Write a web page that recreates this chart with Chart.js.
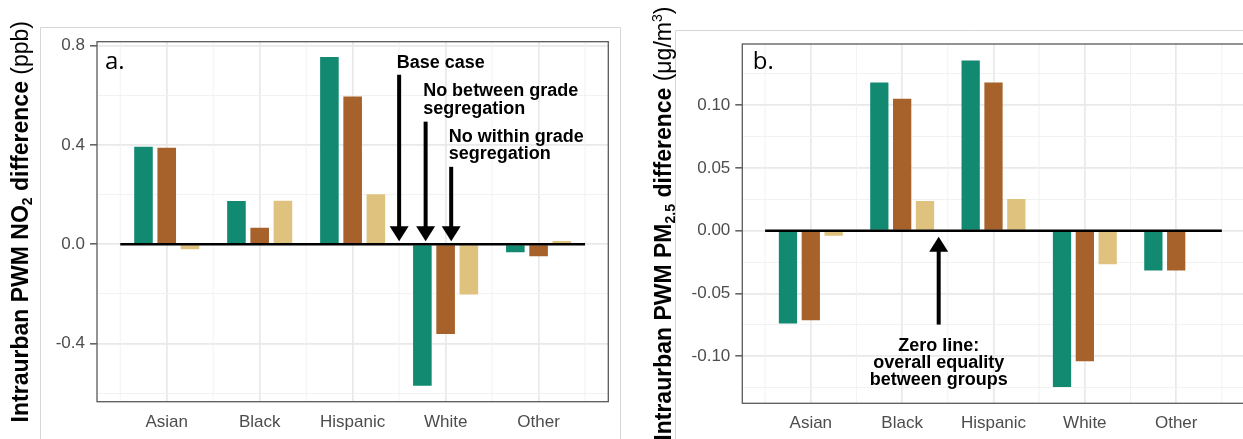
<!DOCTYPE html>
<html>
<head>
<meta charset="utf-8">
<script src="https://cdn.jsdelivr.net/npm/chart.js@4.4.1/dist/chart.umd.min.js"></script>
<style>
  html, body { margin: 0; padding: 0; background: #fff; overflow: hidden; width: 1243px; height: 439px; }
  #wrapA { position: absolute; left: 0; top: 0; width: 621px; height: 439px; }
  #wrapB { position: absolute; left: 621px; top: 0; width: 640px; height: 439px; }
  canvas { display: block; }
</style>
</head>
<body>
<div id="wrapA"><canvas id="no2" width="621" height="439" style="width:621px;height:439px"></canvas></div>
<div id="wrapB"><canvas id="pm25" width="640" height="439" style="width:640px;height:439px"></canvas></div>
<script>
// Racial/ethnic groups on the x axis
const categories = ['Asian', 'Black', 'Hispanic', 'White', 'Other'];
const scenarioNames = ['Base case', 'No between grade segregation', 'No within grade segregation'];

// Intraurban population-weighted mean NO2 difference (ppb)
const no2Base       = [0.393, 0.174, 0.754, -0.570, -0.032];
const no2NoBetween  = [0.389, 0.067, 0.595, -0.361, -0.048];
const no2NoWithin   = [-0.020, 0.175, 0.202, -0.202, 0.013];

// Intraurban population-weighted mean PM2.5 difference (ug/m3)
const pm25Base      = [-0.0740, 0.1180, 0.1355, -0.1246, -0.0317];
const pm25NoBetween = [-0.0714, 0.1050, 0.1180, -0.1040, -0.0317];
const pm25NoWithin  = [-0.0040, 0.0236, 0.0252, -0.0267, 0.0000];

// y tick positions (grid) and the ones that carry a label
const no2Ticks      = [-0.6, -0.4, -0.2, 0.0, 0.2, 0.4, 0.6, 0.8];
const no2Labelled   = [-0.4, 0.0, 0.4, 0.8];
const pm25Ticks     = [-0.125, -0.1, -0.075, -0.05, -0.025, 0.0, 0.025, 0.05, 0.075, 0.1, 0.125];
const pm25Labelled  = [-0.1, -0.05, 0.0, 0.05, 0.1];

const colors = ['#128a72', '#a6622a', '#dfc27d'];
const SANS = "'Liberation Sans', Arial, sans-serif";

function drawRotatedTitle(ctx, xBase, yCenter, parts) {
  ctx.save();
  ctx.translate(xBase, yCenter);
  ctx.rotate(-Math.PI / 2);
  ctx.fillStyle = '#000';
  ctx.textBaseline = 'alphabetic';
  ctx.textAlign = 'left';
  let total = 0;
  parts.forEach(p => { ctx.font = p.font; p.w = ctx.measureText(p.text).width; total += p.w; });
  let x = -total / 2;
  parts.forEach(p => { ctx.font = p.font; ctx.fillText(p.text, x, p.dy || 0); x += p.w; });
  ctx.restore();
}

function drawArrow(ctx, x, yFrom, yTip) {
  const dir = yTip > yFrom ? 1 : -1;
  const headLen = 15, halfW = 9.5;
  ctx.save();
  ctx.strokeStyle = '#000';
  ctx.fillStyle = '#000';
  ctx.lineWidth = 4;
  ctx.beginPath();
  ctx.moveTo(x, yFrom);
  ctx.lineTo(x, yTip - dir * (headLen - 1));
  ctx.stroke();
  ctx.beginPath();
  ctx.moveTo(x - halfW, yTip - dir * headLen);
  ctx.lineTo(x + halfW, yTip - dir * headLen);
  ctx.lineTo(x, yTip);
  ctx.closePath();
  ctx.fill();
  ctx.restore();
}

function makePanel(id, cfg) {
  const isMajorY = v => cfg.labelled.some(l => Math.abs(l - v) < 1e-9);

  const decor = {
    id: 'panelDecor',
    beforeDraw(chart) {
      const ctx = chart.ctx;
      ctx.save();
      ctx.fillStyle = '#fff';
      ctx.fillRect(0, 0, chart.width, chart.height);
      // outer frame of the figure panel
      ctx.strokeStyle = '#d6d6d6';
      ctx.lineWidth = 1;
      ctx.beginPath();
      const f = cfg.frame;
      ctx.moveTo(f.left, chart.height + 2);
      ctx.lineTo(f.left, f.top);
      ctx.lineTo(f.right, f.top);
      ctx.lineTo(f.right, chart.height + 2);
      ctx.stroke();
      ctx.restore();
    },
    beforeDatasetsDraw(chart) {
      // minor vertical grid lines between groups
      const { ctx, chartArea: a, scales: { x } } = chart;
      ctx.save();
      ctx.strokeStyle = '#f0f0f0';
      ctx.lineWidth = 0.9;
      for (let v = 0.5; v <= categories.length + 0.5; v += 1) {
        const px = x.getPixelForValue(v);
        ctx.beginPath();
        ctx.moveTo(px, a.top);
        ctx.lineTo(px, a.bottom);
        ctx.stroke();
      }
      ctx.restore();
    },
    afterDatasetsDraw(chart) {
      const { ctx, chartArea: a, scales: { x, y } } = chart;
      ctx.save();
      // zero line spanning the groups
      ctx.strokeStyle = '#000';
      ctx.lineWidth = 2.4;
      ctx.beginPath();
      ctx.moveTo(x.getPixelForValue(0.5), y.getPixelForValue(0));
      ctx.lineTo(x.getPixelForValue(categories.length + 0.5), y.getPixelForValue(0));
      ctx.stroke();
      // panel border
      ctx.strokeStyle = '#5a5a5a';
      ctx.lineWidth = 1.3;
      ctx.strokeRect(a.left, a.top, a.right - a.left, a.bottom - a.top);

      // arrows and notes
      ctx.font = 'bold 18px ' + SANS;
      ctx.fillStyle = '#000';
      ctx.textBaseline = 'alphabetic';
      cfg.notes.forEach(n => {
        const ax = x.getPixelForValue(n.x);
        const zero = y.getPixelForValue(0);
        drawArrow(ctx, ax, y.getPixelForValue(n.from), zero + n.tipOffset);
        ctx.textAlign = n.align;
        const tx = n.align === 'left' ? ax - 2.5 : ax;
        const ty0 = y.getPixelForValue(n.textY);
        n.lines.forEach((line, i) => ctx.fillText(line, tx, ty0 + i * n.lineHeight));
      });

      // panel letter
      ctx.font = "24px 'Open Sans', sans-serif";
      ctx.textAlign = 'left';
      ctx.fillText(cfg.letter, a.left + cfg.letterDx, a.top + cfg.letterDy);
      ctx.restore();

      // y axis title
      drawRotatedTitle(ctx, cfg.titleX, (a.top + a.bottom) / 2, cfg.title);
    }
  };

  return new Chart(document.getElementById(id), {
    type: 'bar',
    data: {
      datasets: cfg.series.map((vals, i) => ({
        label: scenarioNames[i],
        data: vals.map((v, j) => ({ x: j + 1, y: v })),
        backgroundColor: colors[i],
        borderWidth: 0,
        categoryPercentage: 0.75,
        barPercentage: 0.8
      }))
    },
    options: {
      responsive: false,
      animation: false,
      events: [],
      layout: { padding: cfg.padding },
      plugins: { legend: { display: false }, tooltip: { enabled: false } },
      scales: {
        x: {
          type: 'linear',
          min: 0.25,
          max: categories.length + 0.75,
          offset: false,
          afterBuildTicks: s => { s.ticks = categories.map((c, i) => ({ value: i + 1 })); },
          afterFit: s => { s.height = cfg.xHeight; },
          border: { display: false },
          grid: { color: '#e9e9e9', lineWidth: 1.7, drawTicks: false, offset: false },
          ticks: {
            autoSkip: false, maxRotation: 0, padding: 10,
            color: '#4d4d4d',
            font: { family: SANS, size: 17 },
            callback: v => categories[Math.round(v) - 1] || ''
          }
        },
        y: {
          min: cfg.yMin,
          max: cfg.yMax,
          afterBuildTicks: s => { s.ticks = cfg.ticks.map(v => ({ value: v })); },
          afterFit: s => { s.width = cfg.yWidth; },
          border: { display: false },
          grid: {
            color: c => isMajorY(c.tick.value) ? '#e9e9e9' : '#f1f1f1',
            lineWidth: c => isMajorY(c.tick.value) ? 1.7 : 0.9,
            tickColor: c => isMajorY(c.tick.value) ? '#333' : 'rgba(0,0,0,0)',
            tickWidth: 1.2,
            tickLength: 7
          },
          ticks: {
            padding: 5,
            color: '#4d4d4d',
            font: { family: SANS, size: 17 },
            callback: v => isMajorY(v) ? cfg.fmt(v) : ''
          }
        }
      }
    },
    plugins: [decor]
  });
}

makePanel('no2', {
  series: [no2Base, no2NoBetween, no2NoWithin],
  ticks: no2Ticks,
  labelled: no2Labelled,
  yMin: -0.634, yMax: 0.816,
  fmt: v => v.toFixed(1),
  padding: { top: 41.7, right: 12.7, bottom: 0, left: 0 },
  yWidth: 97, xHeight: 37.3,
  frame: { left: 40.5, top: 27.5, right: 620.5 },
  letter: 'a.', letterDx: 8, letterDy: 27.5,
  titleX: 28,
  title: [
    { text: 'Intraurban PWM NO', font: 'bold 23px ' + SANS },
    { text: '2', font: 'bold 14px ' + SANS, dy: 4 },
    { text: ' difference', font: 'bold 23px ' + SANS },
    { text: ' (ppb)', font: '23px ' + SANS }
  ],
  notes: [
    { x: 3.5,   from: 0.683, tipOffset: -3, align: 'left', textY: 0.710, lineHeight: 17.7, lines: ['Base case'] },
    { x: 3.785, from: 0.494, tipOffset: -3, align: 'left', textY: 0.598, lineHeight: 17.7, lines: ['No between grade', 'segregation'] },
    { x: 4.06,  from: 0.312, tipOffset: -3, align: 'left', textY: 0.413, lineHeight: 17.7, lines: ['No within grade', 'segregation'] }
  ]
});

makePanel('pm25', {
  series: [pm25Base, pm25NoBetween, pm25NoWithin],
  ticks: pm25Ticks,
  labelled: pm25Labelled,
  yMin: -0.1375, yMax: 0.1487,
  fmt: v => v.toFixed(2),
  padding: { top: 44, right: 16.3, bottom: 0, left: 0 },
  yWidth: 121.3, xHeight: 35.7,
  frame: { left: 54.5, top: 30.5, right: 700 },
  letter: 'b.', letterDx: 10.5, letterDy: 24.5,
  titleX: 50,
  title: [
    { text: 'Intraurban PWM PM', font: 'bold 23px ' + SANS },
    { text: '2.5', font: 'bold 14px ' + SANS, dy: 4 },
    { text: ' difference', font: 'bold 23px ' + SANS },
    { text: ' (\u03bcg/m', font: '23px ' + SANS },
    { text: '3', font: '14px ' + SANS, dy: -9 },
    { text: ')', font: '23px ' + SANS }
  ],
  notes: [
    { x: 2.4, from: -0.0748, tipOffset: 6, align: 'center', textY: -0.096, lineHeight: 16.8,
      lines: ['Zero line:', 'overall equality', 'between groups'] }
  ]
});
</script>
</body>
</html>
